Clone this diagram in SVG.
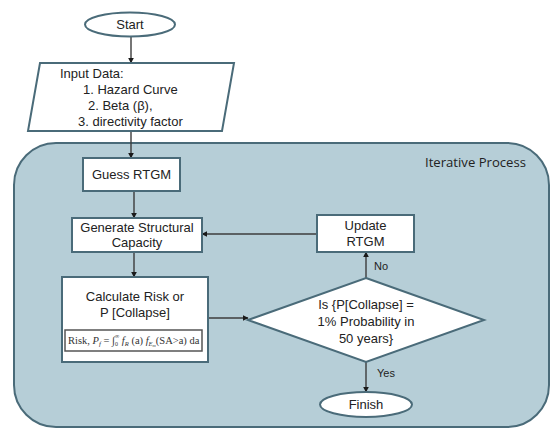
<svg xmlns="http://www.w3.org/2000/svg" width="554" height="429" viewBox="0 0 554 429">
<defs>
<style>
.box{fill:#ffffff;stroke:#4a6b79;stroke-width:2}
.t{font-family:"Liberation Sans",Arial,sans-serif;font-size:13px;fill:#222}
.lbl{font-family:"Liberation Sans",Arial,sans-serif;font-size:11px;fill:#222}
.c{fill:none;stroke:#3c3c3c;stroke-width:1.4}
</style>
<marker id="ah" viewBox="0 0 10 10" refX="9" refY="5" markerWidth="6" markerHeight="6" orient="auto" markerUnits="userSpaceOnUse">
<path d="M0,0 L10,5 L0,10 z" fill="#1a1a1a"/>
</marker>
</defs>
<rect width="554" height="429" fill="#ffffff"/>
<g id="iterative-process">
<rect x="14" y="143" width="535" height="284" rx="42" ry="42" fill="#b6ced7" stroke="#4a6b79" stroke-width="2"/>
<text x="425" y="167" font-family="'Open Sans','Liberation Sans',sans-serif" font-size="12.5" fill="#222" textLength="101" lengthAdjust="spacingAndGlyphs">Iterative Process</text>
</g>
<g id="connectors">
<path class="c" d="M131,37 V63" marker-end="url(#ah)"/>
<path class="c" d="M131,131 V158" marker-end="url(#ah)"/>
<path class="c" d="M134,191 V218" marker-end="url(#ah)"/>
<path class="c" d="M134,252 V277" marker-end="url(#ah)"/>
<path class="c" d="M208,318 H248" marker-end="url(#ah)"/>
<path class="c" d="M366,278 V252" marker-end="url(#ah)"/>
<path class="c" d="M317,234 H202" marker-end="url(#ah)"/>
<path class="c" d="M366,362 V392" marker-end="url(#ah)"/>
<text class="lbl" x="374" y="270">No</text>
<text class="lbl" x="377" y="377">Yes</text>
</g>
<g id="start">
<ellipse cx="130" cy="24.5" rx="45" ry="12" class="box"/>
<text class="t" x="130" y="29" text-anchor="middle">Start</text>
</g>
<g id="input-data">
<polygon points="40,63 234,63 222,131 28,131" class="box"/>
<text class="t" x="60" y="78">Input Data:</text>
<text class="t" x="83" y="94">1. Hazard Curve</text>
<text class="t" x="88" y="110">2. Beta (β),</text>
<text class="t" x="78" y="126">3. directivity factor</text>
</g>
<g id="guess-rtgm">
<rect x="83" y="158" width="97" height="33" class="box"/>
<text class="t" x="131.5" y="179" text-anchor="middle">Guess RTGM</text>
</g>
<g id="generate-capacity">
<rect x="72" y="218" width="130" height="34" class="box"/>
<text class="t" x="137" y="232" text-anchor="middle">Generate Structural</text>
<text class="t" x="137" y="247" text-anchor="middle">Capacity</text>
</g>
<g id="calculate-risk">
<rect x="62" y="277" width="146" height="85" class="box"/>
<text class="t" x="135" y="301" text-anchor="middle">Calculate Risk or</text>
<text class="t" x="135" y="317" text-anchor="middle">P [Collapse]</text>
<rect x="65" y="330" width="137" height="21" fill="#ffffff" stroke="#555" stroke-width="1.5"/>
<text x="68" y="344" font-family="'Liberation Serif','Times New Roman',serif" font-size="10.5" fill="#333">Risk, <tspan font-style="italic">P</tspan><tspan font-style="italic" font-size="7" dy="1.5">f</tspan><tspan dy="-1.5"> = ∫</tspan><tspan font-size="6" dy="2">0</tspan><tspan font-size="6" dx="-3" dy="-8">∞</tspan><tspan font-style="italic" dy="6"> f</tspan><tspan font-style="italic" font-size="6.5" dy="1.5">R</tspan><tspan dy="-1.5"> (a) </tspan><tspan font-style="italic">f</tspan><tspan font-style="italic" font-size="6.5" dy="1.5">E</tspan><tspan font-style="italic" font-size="4.5" dy="1">m</tspan><tspan dy="-2.5">(SA&gt;a) da</tspan></text>
</g>
<g id="decision">
<polygon points="366,278 484,320 366,362 248,320" class="box"/>
<text class="t" x="366" y="309" text-anchor="middle">Is {P[Collapse] =</text>
<text class="t" x="366" y="326" text-anchor="middle">1% Probability in</text>
<text class="t" x="366" y="343" text-anchor="middle">50 years}</text>
</g>
<g id="update-rtgm">
<rect x="317" y="215" width="97" height="37" class="box"/>
<text class="t" x="365.5" y="230" text-anchor="middle">Update</text>
<text class="t" x="365.5" y="246" text-anchor="middle">RTGM</text>
</g>
<g id="finish">
<ellipse cx="366" cy="404.5" rx="46" ry="12.5" class="box"/>
<text class="t" x="366" y="409" text-anchor="middle">Finish</text>
</g>
</svg>
